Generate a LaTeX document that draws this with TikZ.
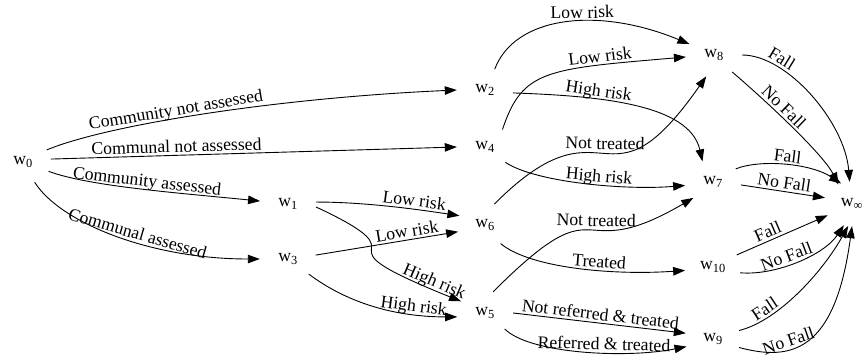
\documentclass[tikz,border=0pt]{standalone}
\usepackage{fontspec}
\setmainfont{Liberation Serif}
\usetikzlibrary{arrows.meta,shapes.geometric}
\begin{document}
\begin{tikzpicture}[x=1pt,y=1pt,
  st/.style={ellipse, minimum width=56pt, minimum height=44pt, inner sep=0pt, font=\fontsize{17.7}{20}\selectfont},
  ed/.style={-{Triangle[length=12pt,width=8.5pt]}, line width=0.9pt},
  lab/.style={font=\fontsize{17.7}{20}\selectfont, sloped, above, inner sep=2.5pt, text depth=0pt}]
\useasboundingbox (0,0) rectangle (864,360);
\node[st] (w0) at (23,198) {w\textsubscript{0}};
\node[st] (w1) at (288,156) {w\textsubscript{1}};
\node[st] (w3) at (288,101) {w\textsubscript{3}};
\node[st] (w2) at (485,270) {w\textsubscript{2}};
\node[st] (w4) at (485,213) {w\textsubscript{4}};
\node[st] (w6) at (485,135) {w\textsubscript{6}};
\node[st] (w5) at (485,47) {w\textsubscript{5}};
\node[st] (w8) at (714,305) {w\textsubscript{8}};
\node[st] (w7) at (713,178) {w\textsubscript{7}};
\node[st] (w10) at (713,93) {w\textsubscript{10}};
\node[st] (w9) at (713,21) {w\textsubscript{9}};
\node[st] (winf) at (852,156) {w\textsubscript{∞}};
\draw[ed] (w0.27) .. controls +(60,25) and +(-180,-8) .. (w2.180) node[lab,pos=.43]{Community not assessed};
\draw[ed] (w0.6) -- (w4.180) node[lab,pos=.31]{Communal not assessed};
\draw[ed] (w0.-20) .. controls +(40,-15) and +(-80,8) .. (w1.174) node[lab,pos=.53]{Community assessed};
\draw[ed] (w0.-60) .. controls +(25,-40) and +(-110,0) .. (w3.180) node[lab,pos=.58]{Communal assessed};
\draw[ed] (w1.4) .. controls +(50,0) and +(-40,6) .. (w6.160) node[lab,pos=.65]{Low risk};
\draw[ed] (w3.8) -- (w6.194) node[lab,pos=.65]{Low risk};
\draw[ed] (w1.-6) .. controls +(120,-56) and +(-162,65) .. (w5.154) node[lab,pos=.93]{High risk};
\draw[ed] (w3.-36) .. controls +(40,-30) and +(-60,0) .. (w5.188) node[lab,pos=.74]{High risk};
\draw[ed] (w2.65) .. controls +(20,53) and +(-92,38) .. (w8.156) node[lab,pos=.58]{Low risk};
\draw[ed] (w4.45) .. controls +(20,60) and +(-140,-12) .. (w8.184) node[lab,pos=.75]{Low risk};
\draw[ed] (w2.-6) .. controls +(88,-3) and +(-13,57) .. (w7.117) node[lab,pos=.33]{High risk};
\draw[ed] (w4.-37) .. controls +(30,-20) and +(-60,-5) .. (w7.187) node[lab,pos=.57]{High risk};
\draw[ed] (w6.66) .. controls +(114,114) and +(-102,-146) .. (w8.250) node[lab,pos=.5]{Not treated};
\draw[ed] (w6.-50) .. controls +(30,-25) and +(-70,-5) .. (w10.187) node[lab,pos=.6]{Treated};
\draw[ed] (w5.69) .. controls +(114,114) and +(-123,-72) .. (w7.219) node[lab,pos=.55]{Not treated};
\draw[ed] (w5.0) -- (w9.168) node[lab,pos=.5]{Not referred \& treated};
\draw[ed] (w5.-39) .. controls +(25,-25) and +(-60,-12) .. (w9.196) node[lab,pos=.6]{Referred \& treated};
\draw[ed] (w8.0) .. controls +(45,0) and +(-5,60) .. (winf.96) node[lab,pos=.25]{Fall};
\draw[ed] (w8.-43) .. controls +(35,-30) and +(-15,30) .. (winf.125) node[lab,pos=.38]{No Fall};
\draw[ed] (w7.30) .. controls +(25,10) and +(-30,20) .. (winf.118) node[lab,pos=.5]{Fall};
\draw[ed] (w7.-6) -- (winf.167) node[lab,pos=.5]{No Fall};
\draw[ed] (w10.27) -- (winf.205) node[lab,pos=.38]{Fall};
\draw[ed] (w10.-12) .. controls +(35,-3) and +(-20,-30) .. (winf.249) node[lab,pos=.43]{No Fall};
\draw[ed] (w9.18) .. controls +(40,10) and +(-25,-45) .. (winf.260) node[lab,pos=.25]{Fall};
\draw[ed] (w9.-18) .. controls +(52,-14) and +(-17,-126) .. (winf.270) node[lab,pos=.36]{No Fall};
\end{tikzpicture}
\end{document}
